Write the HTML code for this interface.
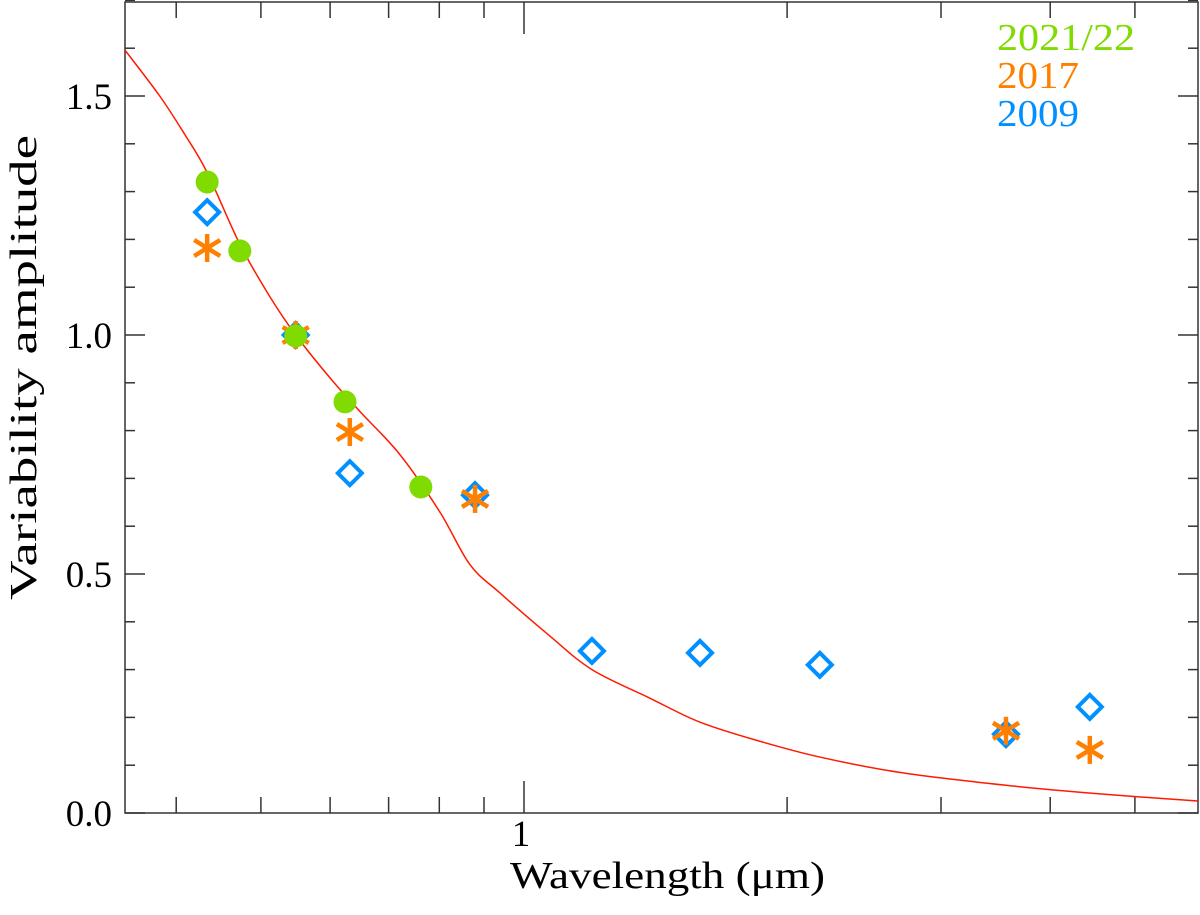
<!DOCTYPE html>
<html><head><meta charset="utf-8"><style>
body{margin:0;background:#fff}
svg{display:block}
text{font-family:"Liberation Serif",serif}
</style></head><body>
<svg id="chart" width="1200" height="915" xmlns="http://www.w3.org/2000/svg">
<g id="axes"></g>
<g id="plot"></g>
<text x="521" y="846" font-size="37" text-anchor="middle">1</text>
<text x="510" y="888" font-size="38" textLength="315" lengthAdjust="spacingAndGlyphs">Wavelength (μm)</text>
<text transform="translate(36,600) rotate(-90)" font-size="38" textLength="465" lengthAdjust="spacingAndGlyphs">Variability amplitude</text>
<text x="997" y="50" font-size="38" fill="#7fdb00" textLength="138" lengthAdjust="spacingAndGlyphs">2021/22</text>
<text x="997" y="88" font-size="38" fill="#ff7f00" textLength="82" lengthAdjust="spacingAndGlyphs">2017</text>
<text x="997" y="126" font-size="38" fill="#0090ff" textLength="82" lengthAdjust="spacingAndGlyphs">2009</text>
</svg>
<script>
const greenLam=[0.434,0.473,0.548,0.624,0.762];
const greenVal=[1.32,1.176,0.998,0.86,0.682];
const orangeLam=[0.434,0.548,0.632,0.879,3.56,4.44];
const orangeVal=[1.182,1.0,0.797,0.657,0.172,0.132];
const blueLam=[0.434,0.548,0.632,0.879,1.196,1.59,2.18,3.56,4.44];
const blueVal=[1.257,1.0,0.711,0.665,0.339,0.335,0.31,0.165,0.222];
const modelLam=[0.3495,0.383,0.409,0.434,0.473,0.512,0.548,0.600,0.649,0.721,0.801,0.867,0.939,1.071,1.196,1.394,1.59,1.862,2.18,2.69,3.56,4.56,5.9];
const modelVal=[1.596,1.50,1.42,1.34,1.19,1.08,1.0,0.91,0.84,0.75,0.63,0.52,0.46,0.37,0.30,0.24,0.19,0.15,0.117,0.085,0.058,0.04,0.025];
const yTicks=[0,0.5,1.0,1.5];
const yTickLabels=["0.0","0.5","1.0","1.5"];
const xTicks=[0.4,0.5,0.6,0.7,0.8,0.9,1,2,3,4,5];

const L=125,R=1198,T=2,B=813;
const X=l=>524+874*Math.log10(l);
const Y=v=>813-478*v;
const NS="http://www.w3.org/2000/svg";
const ax=document.getElementById('axes'),pl=document.getElementById('plot');
function mk(tag,attrs,parent){const e=document.createElementNS(NS,tag);for(const k in attrs)e.setAttribute(k,attrs[k]);parent.appendChild(e);return e;}
let f=mk('rect',{x:L,y:T,width:R-L,height:B-T,fill:'none',stroke:'#333','stroke-width':1.5},ax);


for(let i=0;i<=17;i++){const v=i/10;const y=Y(v);const len=(i%5===0)?20:10;
 let t=mk('line',{x1:L,x2:L+len,y1:y,y2:y,stroke:'#333','stroke-width':1.5},ax);
 
 
 let t2=mk('line',{x1:R-len,x2:R,y1:y,y2:y,stroke:'#333','stroke-width':1.5},ax);
 
 }
yTicks.forEach((v,i)=>{let t=mk('text',{x:112,y:Y(v)+13,'font-size':37,'text-anchor':'end'},ax);t.textContent=yTickLabels[i];
 
 });
xTicks.forEach(l=>{const x=X(l);const len=l===1?32:16;
 let t=mk('line',{x1:x,x2:x,y1:B,y2:B-len,stroke:'#333','stroke-width':1.5},ax);
 
 
 let t2=mk('line',{x1:x,x2:x,y1:T,y2:T+len,stroke:'#333','stroke-width':1.5},ax);
 
 });
const pts=modelLam.map((l,i)=>[X(l),Y(modelVal[i])]);
let d='M'+pts[0][0]+','+pts[0][1];
for(let i=0;i<pts.length-1;i++){const p0=pts[Math.max(0,i-1)],p1=pts[i],p2=pts[i+1],p3=pts[Math.min(pts.length-1,i+2)];
 d+=` C${p1[0]+(p2[0]-p0[0])/6},${p1[1]+(p2[1]-p0[1])/6} ${p2[0]-(p3[0]-p1[0])/6},${p2[1]-(p3[1]-p1[1])/6} ${p2[0]},${p2[1]}`;}
let c=mk('path',{d:d,fill:'none',stroke:'#ff1a00','stroke-width':1.5},pl);


blueLam.forEach((l,i)=>{const x=X(l),y=Y(blueVal[i]);
 let p=mk('polygon',{points:`${x},${y-12} ${x+12},${y} ${x},${y+12} ${x-12},${y}`,fill:'none',stroke:'#0090ff','stroke-width':4},pl);
 
 });
orangeLam.forEach((l,i)=>{const x=X(l),y=Y(orangeVal[i]);
 let g=mk('g',{stroke:'#ff7f00','stroke-width':4.5},pl);
 
 
 mk('line',{x1:x,x2:x,y1:y-14,y2:y+14},g);
 mk('line',{x1:x-13,x2:x+13,y1:y-8,y2:y+8},g);
 mk('line',{x1:x-13,x2:x+13,y1:y+8,y2:y-8},g);});
greenLam.forEach((l,i)=>{let p=mk('circle',{cx:X(l),cy:Y(greenVal[i]),r:11.5,fill:'#7fdb00'},pl);
 
 });
</script>
</body></html>
